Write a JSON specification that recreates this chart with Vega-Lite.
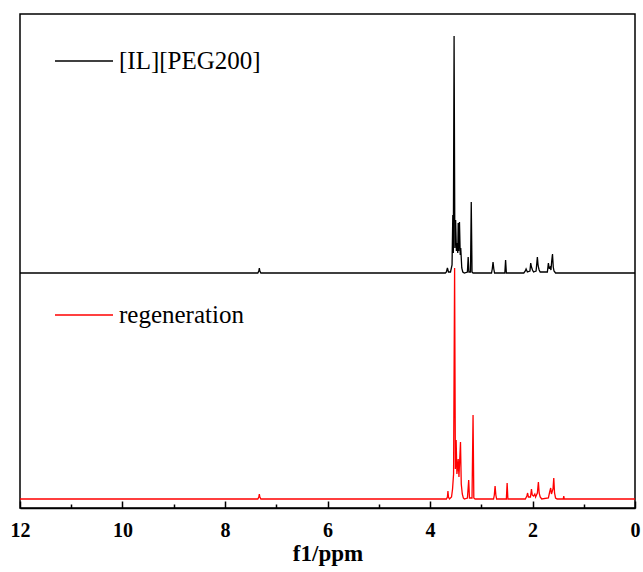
{
  "$schema": "https://vega.github.io/schema/vega-lite/v6.json",
  "autosize": {"type": "none"},
  "padding": {"left": 20, "top": 14, "right": 8, "bottom": 64},
  "width": 615,
  "height": 494,
  "background": "white",
  "config": {
    "view": {"stroke": "black", "strokeWidth": 1.5},
    "font": "Liberation Serif"
  },
  "datasets": {
    "spec": [
      {"series": "[IL][PEG200]", "ppm": 12.0, "intensity": 0},
      {"series": "[IL][PEG200]", "ppm": 7.36, "intensity": 0},
      {"series": "[IL][PEG200]", "ppm": 7.34, "intensity": 2},
      {"series": "[IL][PEG200]", "ppm": 7.33, "intensity": 5},
      {"series": "[IL][PEG200]", "ppm": 7.32, "intensity": 2},
      {"series": "[IL][PEG200]", "ppm": 7.30, "intensity": 0},
      {"series": "[IL][PEG200]", "ppm": 3.70, "intensity": 0},
      {"series": "[IL][PEG200]", "ppm": 3.68, "intensity": 1},
      {"series": "[IL][PEG200]", "ppm": 3.66, "intensity": 5},
      {"series": "[IL][PEG200]", "ppm": 3.64, "intensity": 1},
      {"series": "[IL][PEG200]", "ppm": 3.60, "intensity": 1},
      {"series": "[IL][PEG200]", "ppm": 3.57, "intensity": 8},
      {"series": "[IL][PEG200]", "ppm": 3.555, "intensity": 58},
      {"series": "[IL][PEG200]", "ppm": 3.545, "intensity": 20},
      {"series": "[IL][PEG200]", "ppm": 3.53, "intensity": 237},
      {"series": "[IL][PEG200]", "ppm": 3.515, "intensity": 25},
      {"series": "[IL][PEG200]", "ppm": 3.50, "intensity": 53},
      {"series": "[IL][PEG200]", "ppm": 3.485, "intensity": 22},
      {"series": "[IL][PEG200]", "ppm": 3.47, "intensity": 30},
      {"series": "[IL][PEG200]", "ppm": 3.458, "intensity": 20},
      {"series": "[IL][PEG200]", "ppm": 3.45, "intensity": 50},
      {"series": "[IL][PEG200]", "ppm": 3.44, "intensity": 22},
      {"series": "[IL][PEG200]", "ppm": 3.425, "intensity": 51},
      {"series": "[IL][PEG200]", "ppm": 3.41, "intensity": 18},
      {"series": "[IL][PEG200]", "ppm": 3.40, "intensity": 25},
      {"series": "[IL][PEG200]", "ppm": 3.38, "intensity": 5},
      {"series": "[IL][PEG200]", "ppm": 3.36, "intensity": 1},
      {"series": "[IL][PEG200]", "ppm": 3.33, "intensity": 0},
      {"series": "[IL][PEG200]", "ppm": 3.27, "intensity": 1},
      {"series": "[IL][PEG200]", "ppm": 3.255, "intensity": 16},
      {"series": "[IL][PEG200]", "ppm": 3.24, "intensity": 1},
      {"series": "[IL][PEG200]", "ppm": 3.21, "intensity": 1},
      {"series": "[IL][PEG200]", "ppm": 3.195, "intensity": 71},
      {"series": "[IL][PEG200]", "ppm": 3.18, "intensity": 1},
      {"series": "[IL][PEG200]", "ppm": 3.16, "intensity": 0},
      {"series": "[IL][PEG200]", "ppm": 2.80, "intensity": 0},
      {"series": "[IL][PEG200]", "ppm": 2.785, "intensity": 4},
      {"series": "[IL][PEG200]", "ppm": 2.77, "intensity": 11},
      {"series": "[IL][PEG200]", "ppm": 2.755, "intensity": 4},
      {"series": "[IL][PEG200]", "ppm": 2.74, "intensity": 0},
      {"series": "[IL][PEG200]", "ppm": 2.54, "intensity": 0},
      {"series": "[IL][PEG200]", "ppm": 2.525, "intensity": 13},
      {"series": "[IL][PEG200]", "ppm": 2.51, "intensity": 0},
      {"series": "[IL][PEG200]", "ppm": 2.17, "intensity": 0},
      {"series": "[IL][PEG200]", "ppm": 2.14, "intensity": 2},
      {"series": "[IL][PEG200]", "ppm": 2.125, "intensity": 4},
      {"series": "[IL][PEG200]", "ppm": 2.10, "intensity": 1},
      {"series": "[IL][PEG200]", "ppm": 2.05, "intensity": 2},
      {"series": "[IL][PEG200]", "ppm": 2.035, "intensity": 10},
      {"series": "[IL][PEG200]", "ppm": 2.02, "intensity": 6},
      {"series": "[IL][PEG200]", "ppm": 2.00, "intensity": 3},
      {"series": "[IL][PEG200]", "ppm": 1.98, "intensity": 1},
      {"series": "[IL][PEG200]", "ppm": 1.93, "intensity": 2},
      {"series": "[IL][PEG200]", "ppm": 1.905, "intensity": 16},
      {"series": "[IL][PEG200]", "ppm": 1.89, "intensity": 7},
      {"series": "[IL][PEG200]", "ppm": 1.87, "intensity": 3},
      {"series": "[IL][PEG200]", "ppm": 1.85, "intensity": 1},
      {"series": "[IL][PEG200]", "ppm": 1.71, "intensity": 1},
      {"series": "[IL][PEG200]", "ppm": 1.69, "intensity": 10},
      {"series": "[IL][PEG200]", "ppm": 1.675, "intensity": 5},
      {"series": "[IL][PEG200]", "ppm": 1.655, "intensity": 6},
      {"series": "[IL][PEG200]", "ppm": 1.64, "intensity": 3},
      {"series": "[IL][PEG200]", "ppm": 1.625, "intensity": 12},
      {"series": "[IL][PEG200]", "ppm": 1.61, "intensity": 19},
      {"series": "[IL][PEG200]", "ppm": 1.595, "intensity": 6},
      {"series": "[IL][PEG200]", "ppm": 1.58, "intensity": 2},
      {"series": "[IL][PEG200]", "ppm": 1.55, "intensity": 0},
      {"series": "[IL][PEG200]", "ppm": 0.0, "intensity": 0},

      {"series": "regeneration", "ppm": 12.0, "intensity": 0},
      {"series": "regeneration", "ppm": 7.36, "intensity": 0},
      {"series": "regeneration", "ppm": 7.34, "intensity": 2},
      {"series": "regeneration", "ppm": 7.33, "intensity": 5},
      {"series": "regeneration", "ppm": 7.32, "intensity": 2},
      {"series": "regeneration", "ppm": 7.30, "intensity": 0},
      {"series": "regeneration", "ppm": 3.68, "intensity": 0},
      {"series": "regeneration", "ppm": 3.66, "intensity": 2},
      {"series": "regeneration", "ppm": 3.65, "intensity": 8},
      {"series": "regeneration", "ppm": 3.64, "intensity": 2},
      {"series": "regeneration", "ppm": 3.62, "intensity": 0},
      {"series": "regeneration", "ppm": 3.58, "intensity": 2},
      {"series": "regeneration", "ppm": 3.56, "intensity": 10},
      {"series": "regeneration", "ppm": 3.54, "intensity": 25},
      {"series": "regeneration", "ppm": 3.52, "intensity": 231},
      {"series": "regeneration", "ppm": 3.505, "intensity": 30},
      {"series": "regeneration", "ppm": 3.49, "intensity": 59},
      {"series": "regeneration", "ppm": 3.475, "intensity": 25},
      {"series": "regeneration", "ppm": 3.465, "intensity": 30},
      {"series": "regeneration", "ppm": 3.45, "intensity": 40},
      {"series": "regeneration", "ppm": 3.435, "intensity": 22},
      {"series": "regeneration", "ppm": 3.405, "intensity": 57},
      {"series": "regeneration", "ppm": 3.39, "intensity": 15},
      {"series": "regeneration", "ppm": 3.37, "intensity": 5},
      {"series": "regeneration", "ppm": 3.35, "intensity": 1},
      {"series": "regeneration", "ppm": 3.33, "intensity": 0},
      {"series": "regeneration", "ppm": 3.27, "intensity": 1},
      {"series": "regeneration", "ppm": 3.245, "intensity": 19},
      {"series": "regeneration", "ppm": 3.23, "intensity": 1},
      {"series": "regeneration", "ppm": 3.18, "intensity": 1},
      {"series": "regeneration", "ppm": 3.16, "intensity": 84},
      {"series": "regeneration", "ppm": 3.145, "intensity": 1},
      {"series": "regeneration", "ppm": 3.12, "intensity": 0},
      {"series": "regeneration", "ppm": 2.76, "intensity": 0},
      {"series": "regeneration", "ppm": 2.745, "intensity": 4},
      {"series": "regeneration", "ppm": 2.73, "intensity": 13},
      {"series": "regeneration", "ppm": 2.715, "intensity": 4},
      {"series": "regeneration", "ppm": 2.70, "intensity": 0},
      {"series": "regeneration", "ppm": 2.51, "intensity": 0},
      {"series": "regeneration", "ppm": 2.495, "intensity": 16},
      {"series": "regeneration", "ppm": 2.48, "intensity": 0},
      {"series": "regeneration", "ppm": 2.14, "intensity": 0},
      {"series": "regeneration", "ppm": 2.11, "intensity": 3},
      {"series": "regeneration", "ppm": 2.095, "intensity": 6},
      {"series": "regeneration", "ppm": 2.08, "intensity": 2},
      {"series": "regeneration", "ppm": 2.04, "intensity": 2},
      {"series": "regeneration", "ppm": 2.02, "intensity": 10},
      {"series": "regeneration", "ppm": 2.005, "intensity": 4},
      {"series": "regeneration", "ppm": 1.98, "intensity": 3},
      {"series": "regeneration", "ppm": 1.955, "intensity": 5},
      {"series": "regeneration", "ppm": 1.94, "intensity": 2},
      {"series": "regeneration", "ppm": 1.905, "intensity": 6},
      {"series": "regeneration", "ppm": 1.885, "intensity": 17},
      {"series": "regeneration", "ppm": 1.87, "intensity": 6},
      {"series": "regeneration", "ppm": 1.85, "intensity": 2},
      {"series": "regeneration", "ppm": 1.82, "intensity": 0},
      {"series": "regeneration", "ppm": 1.69, "intensity": 1},
      {"series": "regeneration", "ppm": 1.665, "intensity": 7},
      {"series": "regeneration", "ppm": 1.645, "intensity": 11},
      {"series": "regeneration", "ppm": 1.63, "intensity": 5},
      {"series": "regeneration", "ppm": 1.60, "intensity": 10},
      {"series": "regeneration", "ppm": 1.585, "intensity": 21},
      {"series": "regeneration", "ppm": 1.57, "intensity": 6},
      {"series": "regeneration", "ppm": 1.55, "intensity": 1},
      {"series": "regeneration", "ppm": 1.52, "intensity": 0},
      {"series": "regeneration", "ppm": 1.40, "intensity": 0},
      {"series": "regeneration", "ppm": 1.39, "intensity": 3},
      {"series": "regeneration", "ppm": 1.38, "intensity": 0},
      {"series": "regeneration", "ppm": 0.0, "intensity": 0}
    ]
  },
  "data": {"name": "spec"},
  "resolve": {"scale": {"y": "independent"}, "axis": {"x": "independent"}},
  "layer": [
    {
      "transform": [{"filter": "datum.series === 'regeneration'"}],
      "mark": {"type": "line", "strokeWidth": 1.3, "interpolate": "linear"},
      "encoding": {
        "x": {
          "field": "ppm", "type": "quantitative",
          "scale": {"domain": [12, 0], "nice": false, "zero": false},
          "axis": {
            "orient": "bottom", "values": [1, 3, 5, 7, 9, 11], "labels": false,
            "title": null, "domain": false, "tickSize": -4, "tickColor": "black",
            "tickWidth": 1.5, "grid": false
          }
        },
        "y": {
          "field": "intensity", "type": "quantitative",
          "scale": {"domain": [-9, 485], "nice": false, "zero": false},
          "axis": null
        },
        "color": {
          "field": "series", "type": "nominal",
          "scale": {"domain": ["[IL][PEG200]", "regeneration"], "range": ["black", "#ff0000"]},
          "legend": {
            "orient": "none", "legendX": 34, "legendY": 17, "title": null,
            "symbolType": "stroke", "symbolSize": 3364, "symbolStrokeWidth": 1.3,
            "labelFont": "Liberation Serif", "labelFontSize": 25, "labelColor": "black",
            "labelOffset": 5, "rowPadding": 211, "padding": 0, "labelLimit": 300
          }
        }
      }
    },
    {
      "transform": [{"filter": "datum.series === '[IL][PEG200]'"}],
      "mark": {"type": "line", "strokeWidth": 1.3, "interpolate": "linear"},
      "encoding": {
        "x": {
          "field": "ppm", "type": "quantitative",
          "scale": {"domain": [12, 0], "nice": false, "zero": false},
          "axis": {
            "orient": "bottom", "values": [0, 2, 4, 6, 8, 10, 12],
            "title": "f1/ppm", "titleFont": "Liberation Serif", "titleFontSize": 23,
            "titleFontWeight": "bold", "titleColor": "black", "titlePadding": 2,
            "labelFont": "Liberation Serif", "labelFontSize": 20, "labelFontWeight": "bold",
            "labelColor": "black", "labelPadding": 19, "labelFlush": false,
            "domain": true, "domainColor": "black", "domainWidth": 1.5,
            "tickSize": -7, "tickColor": "black", "tickWidth": 1.5, "grid": false
          }
        },
        "y": {
          "field": "intensity", "type": "quantitative",
          "scale": {"domain": [-235, 259], "nice": false, "zero": false},
          "axis": null
        },
        "color": {"field": "series", "type": "nominal"}
      }
    }
  ]
}
